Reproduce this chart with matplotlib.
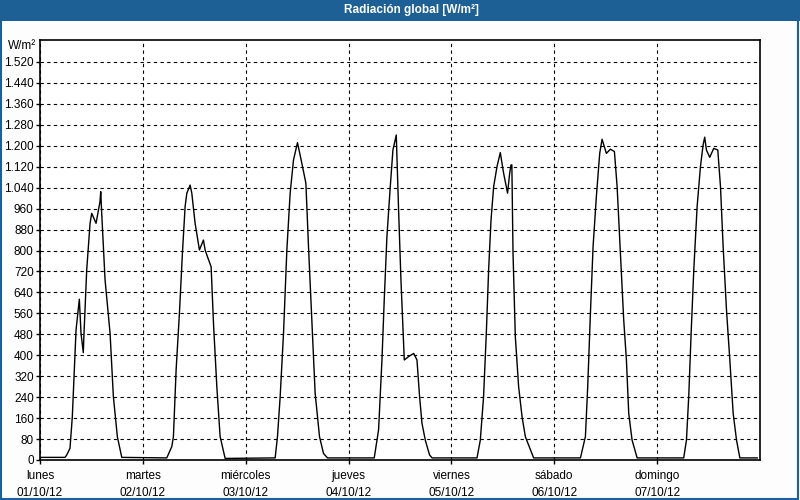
import matplotlib
matplotlib.use('Agg')
import matplotlib.pyplot as plt
from matplotlib.patches import Rectangle
from matplotlib.ticker import FuncFormatter

plt.rcParams['font.family'] = ['Liberation Sans', 'DejaVu Sans']

# hours since 01/10/12 00:00 and global radiation (W/m2)
horas = [0, 5.84, 6.23, 7.0, 7.54, 8.41, 9.18, 9.57, 10.1, 10.27, 10.9, 11.68, 12.07,
         13.08, 14.0, 14.17, 14.4, 15.18, 16.35, 17.12, 18.05, 19.08,
         29.58, 30.75, 31.13, 31.76, 32.53, 33.23, 33.86, 34.26, 35.03, 35.42, 36.19,
         37.2, 38.13, 38.53, 39.06, 39.93, 40.48, 41.26, 42.03, 43.2,
         54.87, 55.41, 56.04, 56.82, 57.6, 58.37, 59.15, 60.08, 61.1, 62.04, 62.65,
         63.43, 64.2, 65.22, 66.15, 67.08,
         77.99, 79.0, 79.79, 80.32, 80.95, 81.73, 82.35, 83.13, 83.67, 84.22, 85.0,
         86.0, 87.2, 87.96, 88.57, 89.13, 89.9, 90.9, 91.5,
         101.97, 102.74, 103.5, 104.14, 104.68, 105.24, 105.85, 106.63, 107.4, 108.18,
         109.1, 109.59, 109.9, 110.1, 110.37, 110.91, 111.68, 112.48, 113.25, 115.18,
         126.1, 127.26, 127.8, 128.43, 129.05, 129.82, 130.6, 131.15, 132.15, 133.1,
         134.03, 134.66, 135.43, 136.2, 136.83, 137.37, 138.15, 139.33,
         150.2, 150.84, 151.37, 151.93, 152.55, 153.33, 154.1, 154.72, 155.1, 155.5,
         156.27, 157.2, 158.15, 158.78, 159.4, 160.18, 160.96, 161.74, 162.52, 163.3,
         167.35]
radiacion = [10, 10, 19, 45, 165, 497, 614, 484, 410, 484, 726, 904, 942,
             904, 987, 1025, 942, 688, 484, 242, 89, 10,
             8, 51, 89, 344, 560, 790, 968, 1019, 1050, 1019, 904,
             802, 840, 802, 777, 738, 522, 280, 89, 6,
             8, 89, 242, 484, 802, 1019, 1146, 1212, 1133, 1057, 815,
             535, 255, 89, 25, 8,
             8, 115, 382, 611, 853, 1044, 1184, 1241, 955, 688, 382,
             395, 407, 382, 242, 140, 76, 19, 8,
             8, 76, 242, 484, 726, 917, 1044, 1120, 1174, 1095,
             1019, 1095, 1127, 1127, 790, 471, 280, 165, 89, 8,
             8, 89, 280, 560, 815, 1006, 1171, 1225, 1171, 1187,
             1178, 1044, 790, 535, 382, 178, 76, 8,
             8, 76, 242, 484, 726, 968, 1120, 1203, 1233, 1184,
             1156, 1190, 1184, 1044, 815, 573, 382, 178, 76, 8,
             8]

dias = ['lunes', 'martes', 'miércoles', 'jueves', 'viernes', 'sábado', 'domingo']
fechas = ['01/10/12', '02/10/12', '03/10/12', '04/10/12', '05/10/12', '06/10/12', '07/10/12']
y_ticks = list(range(0, 1521, 80))

fondo = '#fcfdfc'
azul = '#1d6096'

fig = plt.figure(figsize=(8, 5), dpi=100, facecolor=fondo)

# title bar + thin blue frame
fig.patches.append(Rectangle((0, 1 - 21 / 500), 1, 21 / 500, transform=fig.transFigure,
                             facecolor=azul, edgecolor='none', zorder=0))
fig.patches.append(Rectangle((0.001, 0.002), 0.997, 0.99, transform=fig.transFigure,
                             facecolor='none', edgecolor=azul, lw=1.5, zorder=0))
fig.text(411 / 800, 1 - 10.5 / 500, 'Radiación global [W/m²]', color='white',
         fontsize=8.5, fontweight='bold', ha='center', va='center')

ax = fig.add_axes([40 / 800, 40 / 500, 720 / 800, 420 / 500])
ax.set_facecolor('white')
ax.plot(horas, radiacion, color='black', lw=1)

ax.set_xlim(0, 168)
ax.set_ylim(0, 1604)
ax.set_yticks(y_ticks)
ax.yaxis.set_major_formatter(FuncFormatter(lambda v, p: f'{int(v):,}'.replace(',', '.')))
ax.set_xticks([24 * i for i in range(7)])
ax.set_xticklabels([d + '\n' + f for d, f in zip(dias, fechas)], linespacing=1.55)

ax.grid(True, color='black', linestyle=(0, (3, 3)), lw=0.8)
ax.tick_params(axis='both', labelsize=8.5, length=3, width=1, color='black', pad=1.5)
ax.tick_params(axis='x', pad=4)
for s in ax.spines.values():
    s.set_linewidth(1.2)
    s.set_color('black')

fig.text(36 / 800, 1 - 46 / 500, 'W/m²', fontsize=8.5, ha='right', va='center')

fig.savefig('out.png', dpi=100, facecolor=fondo)
